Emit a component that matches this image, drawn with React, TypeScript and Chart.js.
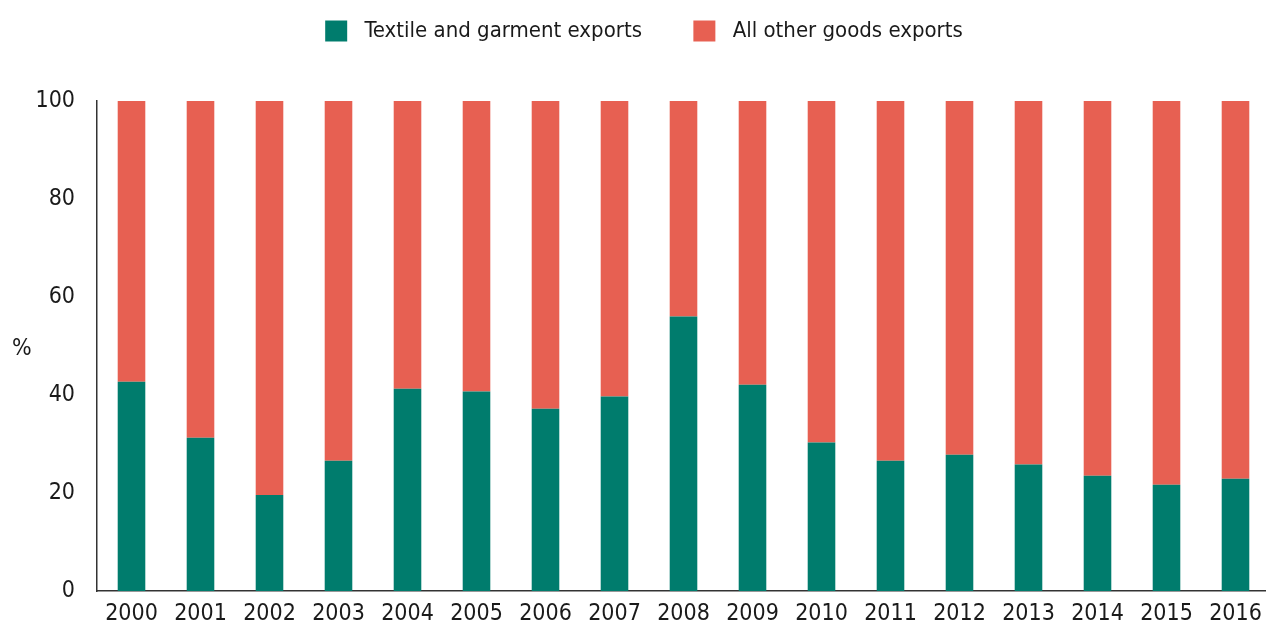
import React, { useEffect, useRef } from "react";
import { Chart, registerables } from "chart.js";

Chart.register(...registerables);

const years = ["2000", "2001", "2002", "2003", "2004", "2005", "2006", "2007", "2008", "2009", "2010", "2011", "2012", "2013", "2014", "2015", "2016"];
const textileShare = [42.7, 31.3, 19.6, 26.6, 41.3, 40.7, 37.2, 39.7, 56.0, 42.1, 30.3, 26.6, 27.8, 25.8, 23.5, 21.7, 22.9];
const otherShare = [57.3, 68.7, 80.4, 73.4, 58.7, 59.3, 62.8, 60.3, 44.0, 57.9, 69.7, 73.4, 72.2, 74.2, 76.5, 78.3, 77.1];
const yTicks = [0, 20, 40, 60, 80, 100];
const seriesNames = ["Textile and garment exports", "All other goods exports"];
const GREEN = "#007C6D";
const RED = "#E76052";
const FONT = "'DejaVu Sans Condensed', 'Liberation Sans Narrow', sans-serif";
const INK = "#1a1a1a";
const FS = 23;
const LFS = 22;

const percentLabel = {
  id: "percentLabel",
  afterDraw(chart: any) {
    const { ctx, chartArea } = chart;
    ctx.save();
    ctx.font = `${FS}px ${FONT}`;
    ctx.fillStyle = INK;
    ctx.textAlign = "left";
    ctx.textBaseline = "middle";
    ctx.fillText("%", 12, (chartArea.top + chartArea.bottom) / 2 + 3);
    ctx.restore();
  },
};

const legendTweaks = {
  id: "legendTweaks",
  afterInit(chart: any) {
    const lg = chart.legend;
    if (!lg) return;
    const orig = lg.fit;
    lg.fit = function () {
      orig.call(this);
      this.height = 101;
    };
  },
  afterLayout(chart: any) {
    const lg = chart.legend;
    if (!lg) return;
    lg.left += 9;
    lg.right += 9;
  },
};

export default function App() {
  const ref = useRef<HTMLCanvasElement | null>(null);
  useEffect(() => {
    if (!ref.current) return;
    const nb = "\u00a0";
    const chart = new Chart(ref.current, {
      type: "bar",
      data: {
        labels: years,
        datasets: [
          { label: nb + seriesNames[0] + nb.repeat(5), data: textileShare, backgroundColor: GREEN, barPercentage: 0.4, categoryPercentage: 1 },
          { label: nb + seriesNames[1], data: otherShare, backgroundColor: RED, barPercentage: 0.4, categoryPercentage: 1 },
        ],
      },
      options: {
        animation: false,
        responsive: false,
        maintainAspectRatio: false,
        layout: { padding: { left: 0, right: 0, top: 0, bottom: 0 } },
        plugins: {
          tooltip: { enabled: false },
          legend: {
            position: "top",
            labels: {
              boxWidth: 22,
              boxHeight: 21,
              padding: 20,
              color: INK,
              font: { family: FONT, size: LFS },
            },
          },
        },
        scales: {
          x: {
            stacked: true,
            grid: { display: false, drawTicks: false },
            border: { display: true, color: "#333", width: 1.5 },
            ticks: { color: INK, font: { family: FONT, size: FS }, padding: 9, maxRotation: 0, autoSkip: false },
            afterFit(scale: any) {
              scale.height = 32;
              scale.paddingLeft = 0;
              scale.paddingRight = 0;
            },
          },
          y: {
            stacked: true,
            min: 0,
            max: 100,
            grid: { display: false, drawTicks: false },
            border: { display: true, color: "#333", width: 1.5 },
            afterBuildTicks(scale: any) {
              scale.ticks = yTicks.map((v) => ({ value: v }));
            },
            ticks: { color: INK, font: { family: FONT, size: FS }, padding: 22 },
            afterFit(scale: any) {
              scale.width = 97;
              scale.paddingTop = 0;
              scale.paddingBottom = 0;
            },
          },
        },
      },
      plugins: [percentLabel, legendTweaks],
    });
    return () => chart.destroy();
  }, []);
  return (
    <div style={{ position: "fixed", left: 0, top: 0, width: 1266, height: 623, overflow: "hidden", background: "#fff" }}>
      <canvas ref={ref} width={1270} height={623} style={{ display: "block", width: 1270, height: 623 }} />
    </div>
  );
}
